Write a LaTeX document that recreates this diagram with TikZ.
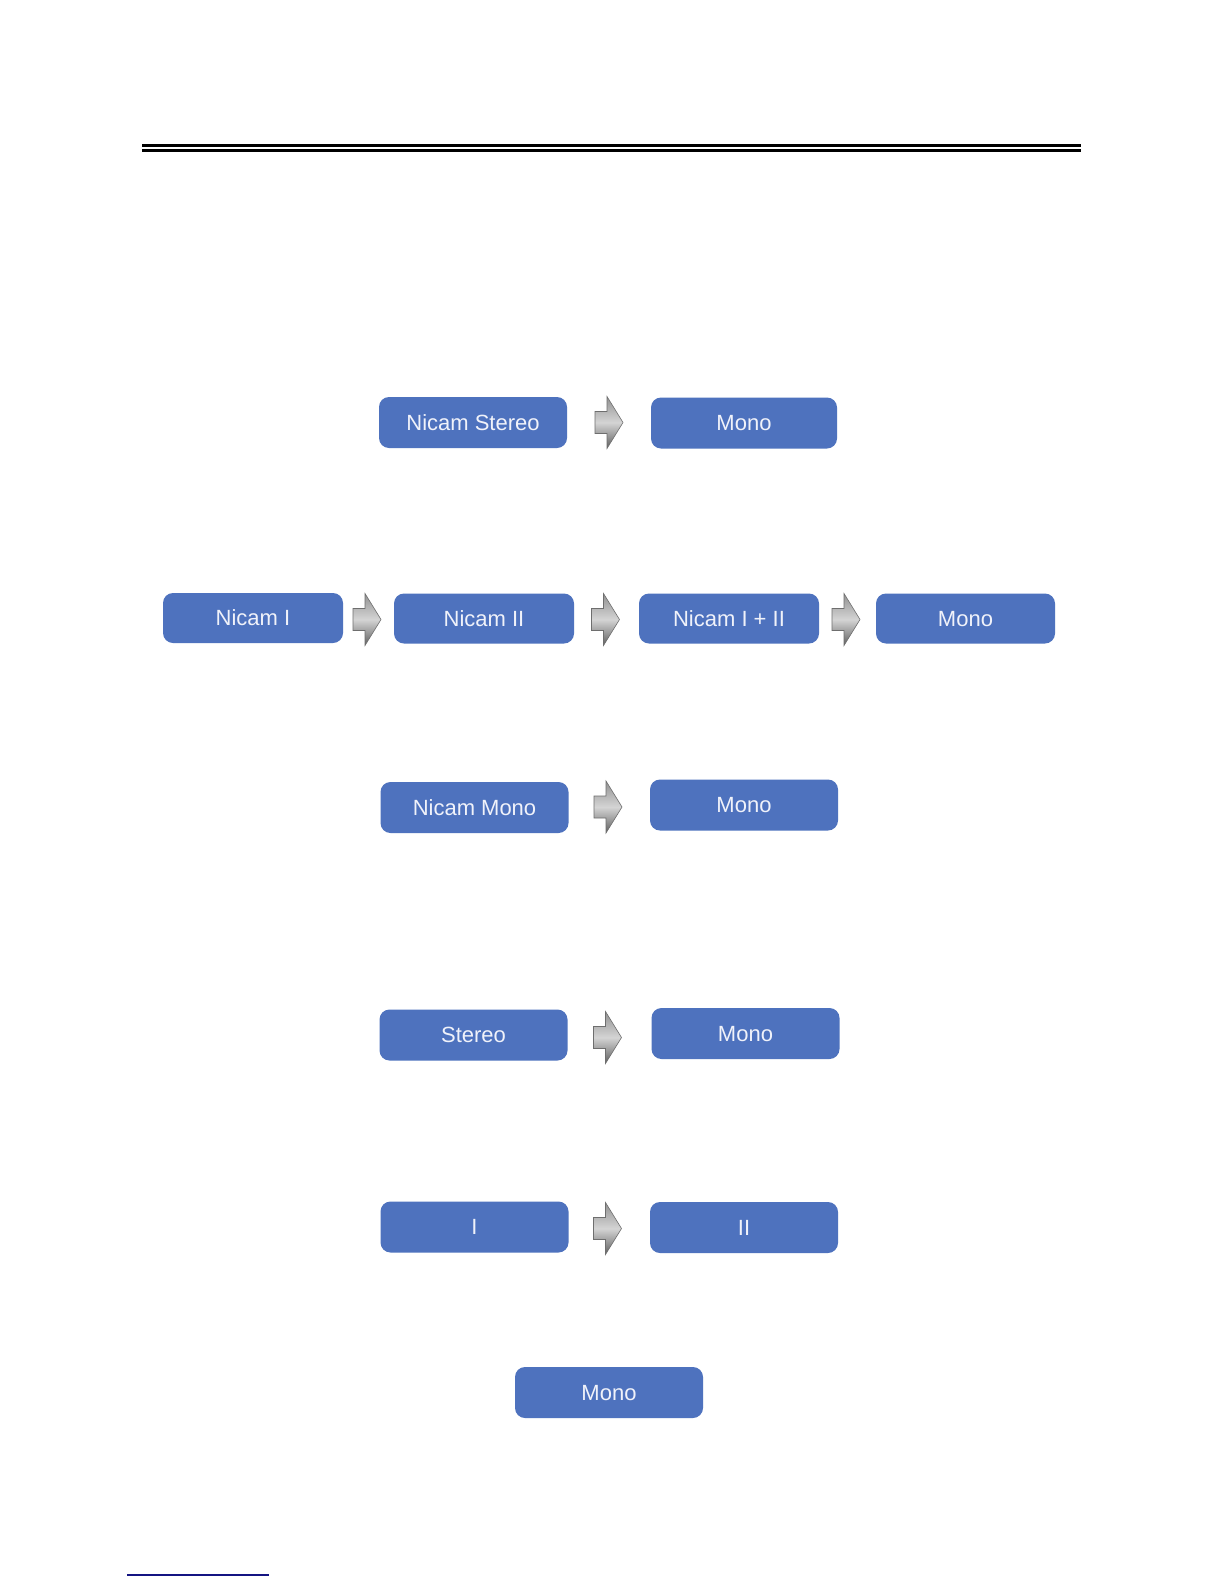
\documentclass[tikz,border=0pt]{standalone}
\usepackage{fontspec}
\setmainfont{Liberation Sans}
\definecolor{boxblue}{RGB}{78,114,190}
\definecolor{boxtext}{RGB}{240,242,250}
\definecolor{linkblue}{RGB}{20,20,130}
\definecolor{arrdark}{RGB}{95,95,95}
\definecolor{arrline}{RGB}{110,110,110}
\definecolor{arrmid}{RGB}{145,145,145}
\definecolor{arrlight}{RGB}{212,212,212}
\begin{document}
\begin{tikzpicture}[x=1pt,y=-1pt,
  box/.style={fill=boxblue, rounded corners=10pt, text=boxtext,
    font=\fontsize{22}{26}\selectfont, minimum height=51pt, inner sep=0pt,
    text height=15.5pt, text depth=0pt},
  wide/.style={box, minimum width=188pt},
  narrow/.style={box, minimum width=180pt, minimum height=50pt},
  arrowshade/.style={draw=arrline, line width=0.6pt,
    top color=arrmid, bottom color=arrdark, middle color=arrlight},
  blockarrow/.pic={
    \path[arrowshade] (-14,-11) -- (-2,-11) -- (-2,-26) -- (14,0) -- (-2,26)
      -- (-2,11) -- (-14,11) -- cycle;
  }]
\useasboundingbox[fill=white] (0,0) rectangle (1224,1584);

% header rule
\draw[line width=3pt] (142,145.5) coordinate (r1a) -- (1081,145.5) coordinate (r1b);
\draw[line width=3pt] (142,150.5) coordinate (r2a) -- (1081,150.5) coordinate (r2b);

% row 1
\node[wide] (ns) at (473,422.5) {Nicam Stereo};
\pic (a1) at (609,422.5) {blockarrow};
\node[wide, minimum width=186pt] (m1) at (744,423) {Mono};

% row 2
\node[narrow] (n1) at (253,618) {Nicam I};
\pic (a2) at (367,619.5) {blockarrow};
\node[narrow] (n2) at (484,618.5) {Nicam II};
\pic (a3) at (605.5,619.5) {blockarrow};
\node[narrow] (n12) at (729,618.5) {Nicam I + II};
\pic (a4) at (846,619.5) {blockarrow};
\node[narrow, minimum width=179pt] (m2) at (965.5,618.5) {Mono};

% row 3
\node[wide] (nm) at (474.5,807.5) {Nicam Mono};
\pic (a5) at (608,807) {blockarrow};
\node[wide] (m3) at (744,805) {Mono};

% row 4
\node[wide] (st) at (473.5,1035) {Stereo};
\pic (a6) at (607.5,1037.5) {blockarrow};
\node[wide] (m4) at (745.5,1033.5) {Mono};

% row 5
\node[wide] (i1) at (474.5,1227) {I};
\pic (a7) at (607.5,1228.5) {blockarrow};
\node[wide] (i2) at (744,1227.5) {II};

% row 6
\node[wide] (m5) at (609,1392.5) {Mono};

% footer line
\draw[linkblue, line width=1.5pt] (127,1575) coordinate (f1) -- (269,1575) coordinate (f2);
\end{tikzpicture}
\end{document}
